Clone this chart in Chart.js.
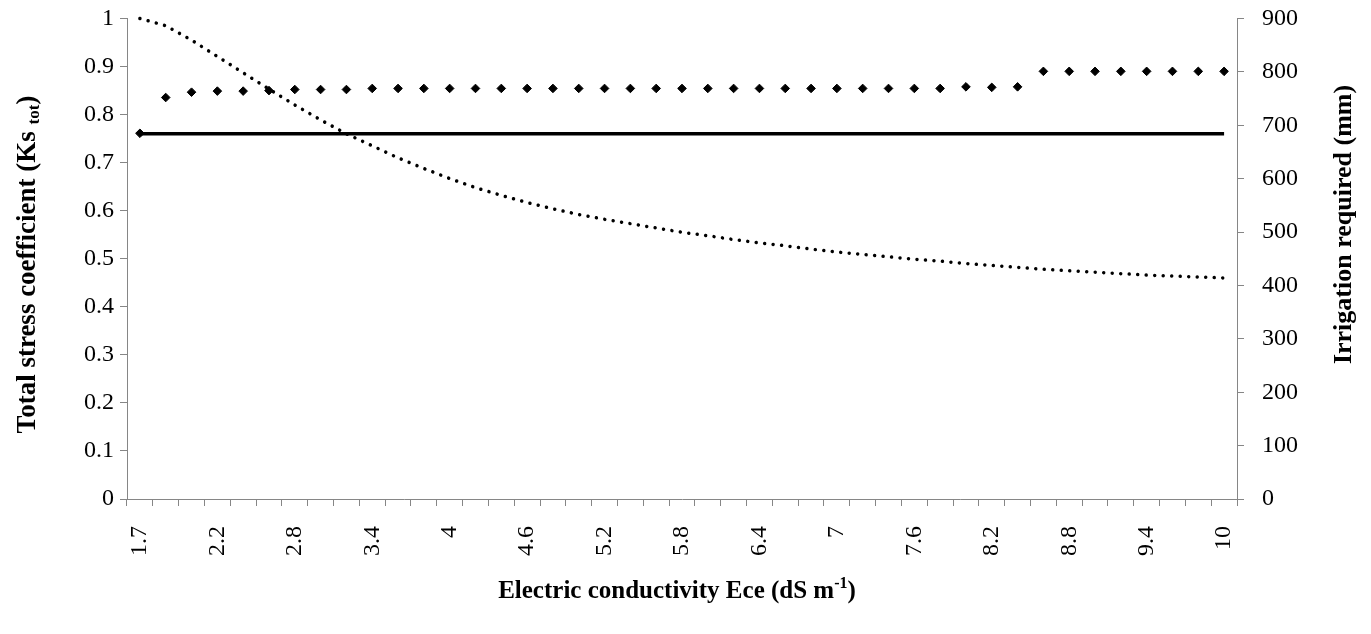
<!DOCTYPE html>
<html>
<head>
<meta charset="utf-8">
<script src="https://cdn.jsdelivr.net/npm/chart.js@4.4.0/dist/chart.umd.min.js"></script>
<style>
  html, body { margin: 0; padding: 0; background: #fff; }
</style>
</head>
<body>
<canvas id="chart" width="1371" height="634"></canvas>
<script>
// Electric conductivity Ece (dS m-1), one category per simulated salinity level
const ece = [1.7, 1.8, 2.0, 2.2, 2.4, 2.6, 2.8, 3.0, 3.2, 3.4, 3.6, 3.8, 4.0, 4.2, 4.4,
  4.6, 4.8, 5.0, 5.2, 5.4, 5.6, 5.8, 6.0, 6.2, 6.4, 6.6, 6.8, 7.0, 7.2, 7.4,
  7.6, 7.8, 8.0, 8.2, 8.4, 8.6, 8.8, 9.0, 9.2, 9.4, 9.6, 9.8, 10.0];

// only every third category gets a label on the x axis
const xTickLabels = ['1.7', '2.2', '2.8', '3.4', '4', '4.6', '5.2', '5.8', '6.4', '7',
  '7.6', '8.2', '8.8', '9.4', '10'];

// Total stress coefficient Ks tot (left axis, dotted line)
const ksTot = [1.000, 0.985, 0.955, 0.921, 0.887, 0.853, 0.820, 0.789, 0.760, 0.735,
  0.710, 0.688, 0.667, 0.648, 0.632, 0.617, 0.604, 0.592, 0.582, 0.573,
  0.564, 0.555, 0.548, 0.540, 0.533, 0.527, 0.520, 0.514, 0.509, 0.504,
  0.499, 0.495, 0.490, 0.486, 0.482, 0.478, 0.475, 0.472, 0.469, 0.466,
  0.464, 0.462, 0.460];

// Irrigation required in mm (right axis, diamonds)
const irrigation = [685, 752, 762, 764, 764, 765, 767, 767, 767, 769,
  769, 769, 769, 769, 769, 769, 769, 769, 769, 769,
  769, 769, 769, 769, 769, 769, 769, 769, 769, 769,
  769, 769, 772, 771, 772, 801, 801, 801, 801, 801,
  801, 801, 801];

// Irrigation without salinity stress in mm (right axis, solid line)
const irrigationRef = [684, 684, 684, 684, 684, 684, 684, 684, 684, 684,
  684, 684, 684, 684, 684, 684, 684, 684, 684, 684,
  684, 684, 684, 684, 684, 684, 684, 684, 684, 684,
  684, 684, 684, 684, 684, 684, 684, 684, 684, 684,
  684, 684, 684];

const axisGray = '#868686';
const serif = '"Liberation Serif", "Times New Roman", serif';
const tickFont = { family: serif, size: 24 };

// draws a title made of pieces (normal / subscript / superscript), centred on cx,cy
function drawRuns(ctx, runs, cx, cy, rotate) {
  ctx.save();
  ctx.translate(cx, cy);
  if (rotate) ctx.rotate(-Math.PI / 2);
  ctx.fillStyle = '#000';
  ctx.textBaseline = 'alphabetic';
  ctx.textAlign = 'left';
  let total = 0;
  runs.forEach(r => {
    ctx.font = 'bold ' + r.size + 'px ' + serif;
    r.w = ctx.measureText(r.t).width;
    total += r.w;
  });
  let x = -total / 2;
  runs.forEach(r => {
    ctx.font = 'bold ' + r.size + 'px ' + serif;
    ctx.fillText(r.t, x, 9 + (r.dy || 0));
    x += r.w;
  });
  ctx.restore();
}

const axisTitles = {
  id: 'axisTitles',
  afterDraw(chart) {
    const ctx = chart.ctx;
    const a = chart.chartArea;
    drawRuns(ctx, [
      { t: 'Total stress coefficient (Ks ', size: 27 },
      { t: 'tot', size: 17, dy: 4 },
      { t: ')', size: 27 }
    ], 26, a.top + 246, true);
    drawRuns(ctx, [
      { t: 'Irrigation required (mm)', size: 26 }
    ], a.right + 105, a.top + 206, true);
    drawRuns(ctx, [
      { t: 'Electric conductivity Ece (dS m', size: 25 },
      { t: '-1', size: 16, dy: -10 },
      { t: ')', size: 25 }
    ], (a.left + a.right) / 2 - 5, a.bottom + 90, false);
  }
};

// fixed axis boxes so the plot area lands where the reference has it
function fixVertical(width) {
  return s => { s.width = width; s.paddingTop = 0; s.paddingBottom = 0; };
}

new Chart(document.getElementById('chart').getContext('2d'), {
  type: 'line',
  data: {
    labels: ece,
    datasets: [
      {
        label: 'Irrigation required',
        data: irrigation,
        yAxisID: 'y1',
        showLine: false,
        pointStyle: 'rectRot',
        pointRadius: 4.3,
        pointBackgroundColor: '#000',
        pointBorderColor: '#000',
        pointBorderWidth: 1,
        order: 0,
        clip: 8
      },
      {
        label: 'Ks tot',
        data: ksTot,
        yAxisID: 'y',
        borderColor: '#000',
        borderWidth: 3.5,
        borderDash: [0.01, 8.5],
        borderCapStyle: 'round',
        pointRadius: 0,
        tension: 0,
        order: 1,
        clip: 8
      },
      {
        label: 'Irrigation reference',
        data: irrigationRef,
        yAxisID: 'y1',
        borderColor: '#000',
        borderWidth: 3.5,
        pointRadius: 0,
        order: 2,
        clip: 8
      }
    ]
  },
  options: {
    responsive: false,
    animation: false,
    devicePixelRatio: 1,
    layout: { padding: { top: 18.5, left: 0, right: 0, bottom: 0 } },
    plugins: {
      legend: { display: false },
      tooltip: { enabled: false }
    },
    scales: {
      x: {
        offset: true,
        grid: { offset: true, drawOnChartArea: false, drawTicks: true, tickLength: 7, color: axisGray },
        border: { color: axisGray, width: 1 },
        ticks: {
          autoSkip: false,
          maxRotation: 90,
          minRotation: 90,
          padding: 20,
          color: '#000',
          font: tickFont,
          callback: function (value, index) {
            const s = String(ece[index]);
            return xTickLabels.includes(s) ? s : '';
          }
        },
        afterFit: s => { s.height = 135; s.paddingLeft = 0; s.paddingRight = 0; }
      },
      y: {
        position: 'left',
        min: 0,
        max: 1,
        grid: { drawOnChartArea: false, drawTicks: true, tickLength: 7, color: axisGray },
        border: { color: axisGray, width: 1 },
        ticks: {
          stepSize: 0.1,
          padding: 6,
          color: '#000',
          font: tickFont,
          callback: v => String(Number(v.toFixed(1)))
        },
        afterFit: fixVertical(127)
      },
      y1: {
        position: 'right',
        min: 0,
        max: 900,
        grid: { drawOnChartArea: false, drawTicks: true, tickLength: 7, color: axisGray },
        border: { color: axisGray, width: 1 },
        ticks: { stepSize: 100, padding: 18, color: '#000', font: tickFont },
        afterFit: fixVertical(134)
      }
    }
  },
  plugins: [axisTitles]
});
</script>
</body>
</html>
